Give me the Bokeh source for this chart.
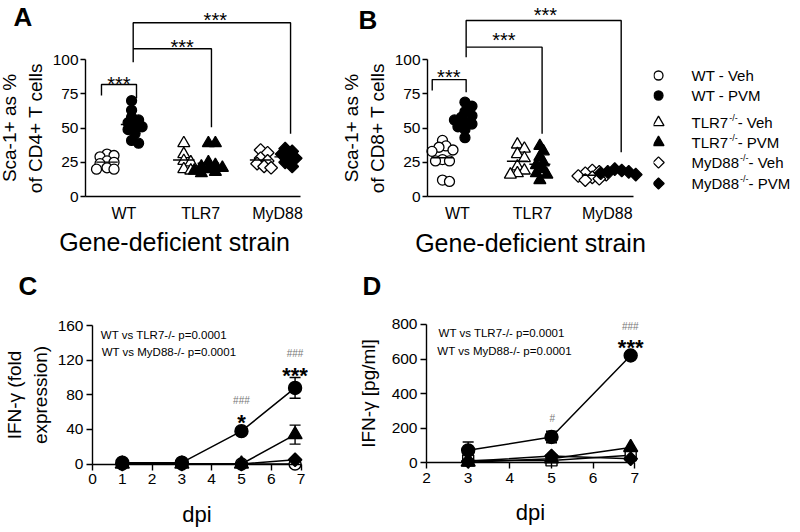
import numpy as np
from bokeh.plotting import figure
from bokeh.layouts import row, column
from bokeh.models import Range1d, FixedTicker, Label, ColumnDataSource, Whisker, TeeHead
from bokeh.embed import file_html
from bokeh.resources import INLINE

FONT = "Liberation Sans"

# ---------------- data ----------------
strains = ["WT", "TLR7", "MyD88"]
treatments = ["Veh", "PVM"]

# Panel A: Sca-1+ as % of CD4+ T cells
cd4_wt_veh = [31, 30, 29, 26, 25, 24, 21, 20, 20]
cd4_wt_pvm = [70, 63, 58, 56, 54, 52, 51, 49, 46, 41, 39]
cd4_tlr7_veh = [39, 31, 26, 25, 20, 19]
cd4_tlr7_pvm = [39, 39, 25, 23, 22, 21, 20, 19, 18, 17]
cd4_myd88_veh = [34, 32, 28, 26, 24, 22, 21]
cd4_myd88_pvm = [35, 33, 31, 29, 28, 25, 22]

# Panel B: Sca-1+ as % of CD8+ T cells
cd8_wt_veh = [41, 37, 36, 34, 33, 27, 26, 26, 12, 11]
cd8_wt_pvm = [69, 66, 62, 59, 58, 56, 54, 53, 51, 49, 43]
cd8_tlr7_veh = [38, 35, 31, 28, 22, 19, 17, 16]
cd8_tlr7_pvm = [37, 33, 29, 25, 23, 20, 17, 16, 12]
cd8_myd88_veh = [19, 18, 17, 16, 15, 14, 13, 12]
cd8_myd88_pvm = [20, 19, 18, 18, 17, 16]

# Panel C: IFN-gamma fold expression
dpi_c = [1, 3, 5, 6.8]
c_wt = [1.5, 1.5, 38, 88]
c_wt_err = [0, 0, 2, 12]
c_tlr7 = [0, 0, 0, 34]
c_tlr7_err = [0, 0, 0, 11]
c_myd88 = [0, 0, 0, 5]
c_veh = [0, 0, 0, 0]

# Panel D: IFN-gamma pg/ml
dpi_d = [3, 5, 6.9]
d_wt = [73, 150, 621]
d_wt_err = [48, 33, 0]
d_tlr7 = [5, 25, 90]
d_myd88 = [10, 40, 25]
d_veh = [15, 15, 45]

# legend
legend_strain = ["WT", "WT", "TLR7", "TLR7", "MyD88", "MyD88"]
legend_treat = ["Veh", "PVM", "Veh", "PVM", "Veh", "PVM"]

# ---------------- helpers ----------------
MARKER = {"WT": ("circle", 10, 0.0), "TLR7": ("triangle", 12, 0.0), "MyD88": ("square", 9, np.pi / 4)}
FILL = {"Veh": "white", "PVM": "black"}


def make_fig(xr, yr, w, h, axes=True):
    kw = {}
    if not axes:
        kw = dict(x_axis_type=None, y_axis_type=None)
    p = figure(x_range=Range1d(*xr), y_range=Range1d(*yr), frame_width=w, frame_height=h,
               min_border=0, min_border_left=0, min_border_right=0, min_border_top=0,
               min_border_bottom=0, output_backend="svg", toolbar_location=None, **kw)
    p.outline_line_color = None
    p.grid.visible = False
    return p


def style_axes(p, tick_size, label_size):
    for ax in p.axis:
        ax.axis_line_width = 1.4
        ax.major_tick_line_width = 1.4
        ax.major_tick_in = 0
        ax.major_tick_out = 6
        ax.minor_tick_line_color = None
        ax.major_label_text_font = FONT
        ax.major_label_text_font_size = tick_size
        ax.major_label_text_color = "black"
        ax.axis_label_text_font = FONT
        ax.axis_label_text_font_size = label_size
        ax.axis_label_text_font_style = "normal"
        ax.axis_label_text_color = "black"


def add_label(p, x, y, text, size, bold=False, color="black", align="center", baseline="middle"):
    p.add_layout(Label(x=x, y=y, text=text, text_font=FONT, text_font_size=size,
                       text_font_style="bold" if bold else "normal", text_color=color,
                       text_align=align, text_baseline=baseline))


def swarm_offsets(vals, y_px, x_px, mind):
    placed = []
    offs = [0.0] * len(vals)
    step = 3.5
    for i in np.argsort(vals)[::-1]:
        yp = vals[i] * y_px
        k = 0
        while True:
            cand = ((k + 1) // 2) * step * (1 if k % 2 == 1 else -1)
            if all((cand - xq) ** 2 + (yp - yq) ** 2 >= mind ** 2 for xq, yq in placed):
                break
            k += 1
        placed.append((cand, yp))
        offs[i] = cand / x_px
    return offs


def scatter_panel(p, groups, shift, y_px, x_px):
    for (strain, treat), vals in groups.items():
        centre = strains.index(strain) + 1 + shift[treat]
        offs = swarm_offsets(vals, y_px, x_px, 6.0)
        xs = [centre + o for o in offs]
        m, s, ang = MARKER[strain]
        p.scatter(xs, vals, marker=m, size=s, angle=ang, fill_color=FILL[treat],
                  line_color="black", line_width=1.3)
        mu = float(np.mean(vals))
        p.segment(x0=[centre - 0.14], y0=[mu], x1=[centre + 0.14], y1=[mu],
                  line_color="black", line_width=1.4)


def cat_axes(p, ylabel, x0, xb, xlabel):
    p.xaxis.ticker = FixedTicker(ticks=[1, 2, 3])
    p.xaxis.major_label_overrides = {i + 1: s for i, s in enumerate(strains)}
    p.xaxis.fixed_location = 0
    p.xaxis.bounds = (x0, xb)
    p.yaxis.ticker = FixedTicker(ticks=[0, 25, 50, 75, 100])
    p.yaxis.bounds = (0, 100)
    p.yaxis.fixed_location = x0
    p.xaxis.axis_label = xlabel
    p.yaxis.axis_label = ylabel
    style_axes(p, "15.5px", "19px")
    p.xaxis.major_tick_out = 0
    p.xaxis.major_label_text_font_size = "16px"
    p.xaxis.major_label_standoff = 8
    p.xaxis.axis_label_standoff = 4
    p.xaxis.axis_label_text_font_size = "25px"
    p.yaxis.major_tick_out = 5
    p.yaxis.major_label_standoff = 2
    p.yaxis.axis_label_standoff = 4


def brackets(p, segs, lw=1.4):
    p.multi_line(xs=[s[0] for s in segs], ys=[s[1] for s in segs], line_color="black", line_width=lw)


# ---------------- Panel A ----------------
pA = make_fig((-0.6068, 3.4036), (-45.33, 143.32), 308, 258)
groupsA = {("WT", "Veh"): cd4_wt_veh, ("WT", "PVM"): cd4_wt_pvm,
           ("TLR7", "Veh"): cd4_tlr7_veh, ("TLR7", "PVM"): cd4_tlr7_pvm,
           ("MyD88", "Veh"): cd4_myd88_veh, ("MyD88", "PVM"): cd4_myd88_pvm}
scatter_panel(pA, groupsA, {"Veh": -0.22, "PVM": 0.1}, 1.3676, 76.8)
cat_axes(pA, "Sca-1+ as %\nof CD4+ T cells", 0.5, 3.3, "")
add_label(pA, 1.659, -33.6, "Gene-deficient strain", "25px")
brackets(pA, [
    ([0.708, 0.708, 1.164, 1.164], [73.9, 81.9, 81.9, 71.9]),
    ([1.121, 1.121, 3.17, 3.17], [98.2, 127, 127, 45.8]),
    ([1.121, 2.14, 2.14], [108, 108, 50.7]),
])
add_label(pA, 0.934, 82.6, "***", "20px")
add_label(pA, 1.759, 109.1, "***", "20px")
add_label(pA, 2.19, 129, "***", "20px")
add_label(pA, -0.4375, 131.6, "A", "26px", bold=True, align="left")

# ---------------- Panel B ----------------
pB = make_fig((-0.9888, 3.6173), (-45.33, 143.32), 345, 258)
groupsB = {("WT", "Veh"): cd8_wt_veh, ("WT", "PVM"): cd8_wt_pvm,
           ("TLR7", "Veh"): cd8_tlr7_veh, ("TLR7", "PVM"): cd8_tlr7_pvm,
           ("MyD88", "Veh"): cd8_myd88_veh, ("MyD88", "PVM"): cd8_myd88_pvm}
scatter_panel(pB, groupsB, {"Veh": -0.2, "PVM": 0.1}, 1.3676, 74.9)
cat_axes(pB, "Sca-1+ as %\nof CD8+ T cells", 0.6, 3.35, "Gene-deficient strain")
brackets(pB, [
    ([0.663, 0.663, 1.116, 1.116], [77.5, 85.5, 85.5, 76.3]),
    ([1.116, 1.116, 3.186, 3.186], [101.9, 128.7, 128.7, 32.4]),
    ([1.116, 2.13, 2.13], [109.2, 109.2, 45.8]),
])
add_label(pB, 0.884, 87.5, "***", "20px")
add_label(pB, 1.619, 114.4, "***", "20px")
add_label(pB, 2.175, 132.6, "***", "20px")
add_label(pB, -0.321, 129.4, "B", "26px", bold=True, align="left")

# ---------------- Legend ----------------
ADV = {"W": 944, "T": 611, "L": 556, "R": 722, "7": 556, "M": 833, "y": 500, "D": 722,
       "8": 556, " ": 278, "-": 333, "/": 278, "V": 667, "e": 556, "h": 556, "P": 667}


def text_w(s, size):
    return sum(ADV.get(c, 556) for c in s) * size / 1000.0


pL = make_fig((0, 145), (258, 0), 145, 258, axes=False)
row_y = [75, 95, 122, 142, 162, 183]
for i, (s, t) in enumerate(zip(legend_strain, legend_treat)):
    m, sz, ang = MARKER[s]
    pL.scatter([5], [row_y[i]], marker=m, size=sz - 1, angle=ang, fill_color=FILL[t],
               line_color="black", line_width=1.3)
    tx = 38
    if s == "WT":
        pL.text([tx], [row_y[i]], text=[f"{s} - {t}"], text_font={"value": FONT},
                text_font_size="15px", text_baseline="middle", text_color="black")
    else:
        w = text_w(s, 15)
        pL.text([tx], [row_y[i]], text=[s], text_font={"value": FONT},
                text_font_size="15px", text_baseline="middle", text_color="black")
        pL.text([tx + w + 1], [row_y[i] - 5], text=["-/-"], text_font={"value": FONT},
                text_font_size="9px", text_baseline="middle", text_color="black")
        pL.text([tx + w + 1 + text_w("-/-", 9)], [row_y[i]], text=[f" - {t}"],
                text_font={"value": FONT}, text_font_size="15px", text_baseline="middle",
                text_color="black")


# ---------------- time-course helpers ----------------
def series(p, x, y, marker, size, fill, angle=0.0, err=None):
    p.line(x, y, line_color="black", line_width=1.5)
    if err is not None:
        xe = [a for a, e in zip(x, err) if e > 0]
        ye = [b for b, e in zip(y, err) if e > 0]
        ee = [e for e in err if e > 0]
        src = ColumnDataSource(dict(x=xe, up=[a + b for a, b in zip(ye, ee)],
                                    lo=[a - b for a, b in zip(ye, ee)]))
        p.add_layout(Whisker(source=src, base="x", upper="up", lower="lo", dimension="height",
                             line_width=1.4, line_color="black",
                             upper_head=TeeHead(size=11, line_width=1.4),
                             lower_head=TeeHead(size=11, line_width=1.4)))
    p.scatter(x, y, marker=marker, size=size, angle=angle, fill_color=fill,
              line_color="black", line_width=1.4)


def time_axes(p, xticks, yticks, xb, yb, ylabel, ystand):
    p.xaxis.ticker = FixedTicker(ticks=xticks)
    p.xaxis.bounds = xb
    p.xaxis.fixed_location = 0
    p.yaxis.ticker = FixedTicker(ticks=yticks)
    p.yaxis.bounds = yb
    p.yaxis.fixed_location = xb[0]
    p.xaxis.axis_label = "dpi"
    p.yaxis.axis_label = ylabel
    style_axes(p, "15.5px", "19px")
    p.xaxis.axis_label_text_font_size = "22px"
    p.xaxis.major_label_standoff = 4
    p.xaxis.axis_label_standoff = 14
    p.yaxis.major_label_standoff = 3
    p.yaxis.axis_label_standoff = ystand


# ---------------- Panel C ----------------
pC = make_fig((-3.088, 7.2507), (-76.93, 237.74), 308, 272)
series(pC, dpi_c, c_veh, "circle", 12, "white")
series(pC, dpi_c, c_myd88, "square", 9.5, "black", angle=np.pi / 4)
series(pC, dpi_c, c_tlr7, "triangle", 14, "black", err=c_tlr7_err)
series(pC, dpi_c, c_wt, "circle", 13, "black", err=c_wt_err)
time_axes(pC, list(range(0, 8)), [0, 40, 80, 120, 160], (0, 7), (0, 160),
          "IFN-γ (fold\nexpression)", 4)
add_label(pC, 0.28, 149.8, "WT vs TLR7-/- p=0.0001", "11.5px", align="left")
add_label(pC, 0.31, 129, "WT vs MyD88-/- p=0.0001", "11.5px", align="left")
add_label(pC, 6.8, 127.8, "###", "10px", color="#777777")
add_label(pC, 6.8, 102.4, "***", "22px", bold=True)
add_label(pC, 5, 73.8, "###", "10px", color="#777777")
add_label(pC, 5, 47.7, "*", "22px", bold=True)
add_label(pC, -2.48, 206.2, "C", "26px", bold=True, align="left")

# ---------------- Panel D ----------------
pD = make_fig((-0.8318, 7.2556), (-389.9, 1181.2), 337, 272)
series(pD, dpi_d, d_veh, "square", 11, "white")
series(pD, dpi_d, d_myd88, "square", 9.5, "black", angle=np.pi / 4)
series(pD, dpi_d, d_tlr7, "triangle", 14, "black")
series(pD, dpi_d, d_wt, "circle", 13, "black", err=d_wt_err)
time_axes(pD, list(range(2, 8)), [0, 200, 400, 600, 800], (2, 7), (0, 800),
          "IFN-γ [pg/ml]", 10)
add_label(pD, 2.29, 748, "WT vs TLR7-/- p=0.0001", "11.5px", align="left")
add_label(pD, 2.26, 645.8, "WT vs MyD88-/- p=0.0001", "11.5px", align="left")
add_label(pD, 6.89, 789.6, "###", "10px", color="#777777")
add_label(pD, 6.9, 665.4, "***", "22px", bold=True)
add_label(pD, 5.02, 258.8, "#", "10px", color="#777777")
add_label(pD, 0.464, 1019.5, "D", "26px", bold=True, align="left")

layout = column(row(pA, pB, pL, spacing=0), row(pC, pD, spacing=0), spacing=0)
open("out.html", "w").write(file_html(layout, INLINE))
